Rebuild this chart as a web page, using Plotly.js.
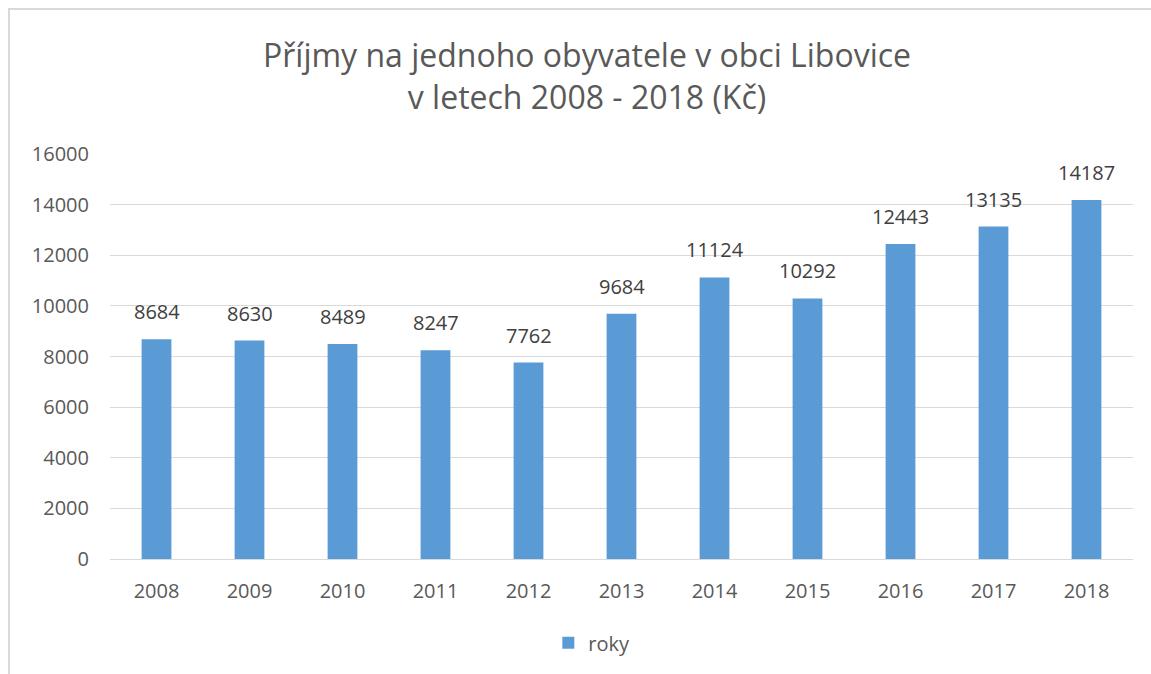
<!DOCTYPE html>
<html>
<head>
<meta charset="utf-8">
<script src="https://cdn.plot.ly/plotly-3.0.1.min.js"></script>
<style>
html,body{margin:0;padding:0;background:#fff;}
#frame{position:absolute;left:8px;top:8px;width:1200px;height:700px;border-left:2px solid #d9d9d9;border-top:2px solid #d9d9d9;}
#chart{position:absolute;left:0;top:0;width:1151px;height:674px;}
</style>
</head>
<body>
<div id="frame"></div>
<div id="chart"></div>
<script>
const years = ['2008','2009','2010','2011','2012','2013','2014','2015','2016','2017','2018'];
const values = [8684, 8630, 8489, 8247, 7762, 9684, 11124, 10292, 12443, 13135, 14187];
const seriesName = 'roky';
const titleLines = ['Příjmy na jednoho obyvatele v obci Libovice', 'v letech 2008 - 2018 (Kč)'];

const font = 'Open Sans, Noto Sans, sans-serif';
const data = [{
  type: 'bar',
  x: years,
  y: values,
  name: seriesName,
  marker: {color: '#5b9bd5'},
  showlegend: true
}];
// annotations on a category axis are placed by category index
const annotations = years.map((yr, i) => ({
  x: i, y: values[i], xref: 'x', yref: 'y',
  text: String(values[i]), showarrow: false,
  xanchor: 'center', yanchor: 'bottom', yshift: 12,
  font: {family: font, size: 20, color: '#404040'}
}));
const layout = {
  width: 1151, height: 674,
  paper_bgcolor: 'rgba(0,0,0,0)',
  plot_bgcolor: 'rgba(0,0,0,0)',
  margin: {l: 110, r: 18, t: 154, b: 115},
  title: {text: titleLines.join('<br>'), x: 0.51, xanchor: 'center', y: 0.9, yanchor: 'middle',
          font: {family: font, size: 32, color: '#595959'}},
  bargap: 0.68,
  xaxis: {type: 'category', range: [-0.5, years.length - 0.5], showgrid: false, showline: false, ticks: '', zeroline: false,
          tickfont: {family: font, size: 20, color: '#595959'}, ticklabelstandoff: 18},
  yaxis: {range: [0, 16000], dtick: 2000, showgrid: true, gridcolor: '#d9d9d9', gridwidth: 1,
          zeroline: true, zerolinecolor: '#d9d9d9', zerolinewidth: 1, showline: false, ticks: '',
          tickformat: 'd', tickfont: {family: font, size: 20, color: '#595959'}, ticklabelstandoff: 20},
  annotations: annotations,
  showlegend: true,
  legend: {orientation: 'h', x: 0.471, xanchor: 'center', y: -0.207, yanchor: 'middle',
           font: {family: font, size: 20, color: '#595959'}},
};
Plotly.newPlot('chart', data, layout, {displayModeBar: false, staticPlot: true});
</script>
</body>
</html>
